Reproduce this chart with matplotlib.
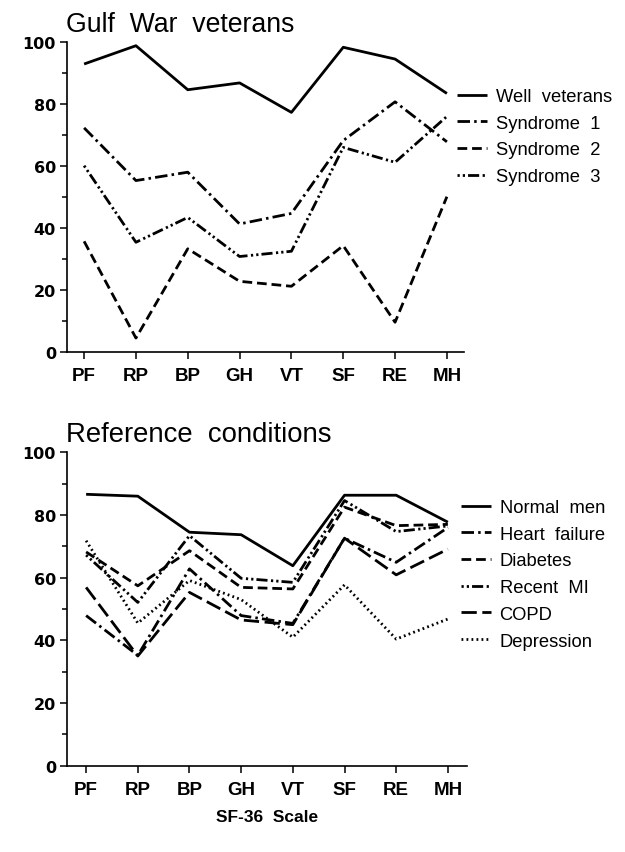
import matplotlib
matplotlib.use("Agg")
import matplotlib.pyplot as plt
from matplotlib.ticker import MultipleLocator

plt.rcParams['font.family'] = ['Liberation Sans', 'DejaVu Sans']
plt.rcParams['lines.scale_dashes'] = False

scales = ["PF", "RP", "BP", "GH", "VT", "SF", "RE", "MH"]

# Gulf War veterans
well_veterans = [92.9, 98.8, 84.6, 86.8, 77.3, 98.3, 94.5, 83.4]
syndrome1 = [72.3, 55.3, 58.0, 41.3, 44.7, 68.2, 80.7, 67.8]
syndrome2 = [35.7, 4.5, 33.3, 22.8, 21.2, 34.3, 9.6, 50.1]
syndrome3 = [60.1, 35.4, 43.4, 30.8, 32.5, 66.0, 61.2, 76.0]

# Reference conditions
normal_men = [86.6, 86.0, 74.5, 73.7, 63.8, 86.3, 86.3, 77.7]
heart_failure = [47.9, 35.2, 62.8, 47.9, 45.4, 72.6, 64.9, 76.0]
diabetes = [68.2, 57.4, 68.6, 56.9, 56.4, 82.5, 76.6, 77.0]
recent_mi = [67.2, 52.1, 73.4, 59.8, 58.5, 84.6, 74.7, 76.5]
copd = [56.9, 35.0, 55.3, 46.5, 45.0, 72.6, 60.9, 69.1]
depression = [71.8, 45.5, 59.1, 53.0, 41.0, 57.7, 40.4, 46.8]

top_labels = ["Well  veterans", "Syndrome  1", "Syndrome  2", "Syndrome  3"]
bottom_labels = ["Normal  men", "Heart  failure", "Diabetes", "Recent  MI", "COPD", "Depression"]

W, H = 625, 853
fig = plt.figure(figsize=(W / 100, H / 100), dpi=100)

ax1 = fig.add_axes([67 / W, 1 - 353 / H, 397 / W, 310 / H])
ax2 = fig.add_axes([67 / W, 1 - 766.7 / H, 400 / W, 313.4 / H])

solid = (0, ())
dashdot = (0, (9, 3, 1.8, 3))
dashed = (0, (7, 3.5))
dotdotdash = (0, (1.6, 2.2, 1.6, 2.2, 8, 2.5))
longdash = (0, (11, 4))
dotted = (0, (1.3, 2.3))

x = list(range(len(scales)))
lw = 2.0

top_series = [well_veterans, syndrome1, syndrome2, syndrome3]
top_styles = [solid, dashdot, dashed, dotdotdash]
for vals, ls, lab in zip(top_series, top_styles, top_labels):
    ax1.plot(x, vals, color='black', lw=lw, linestyle=ls, label=lab,
             solid_joinstyle='miter', dash_capstyle='butt')

bottom_series = [normal_men, heart_failure, diabetes, recent_mi, copd, depression]
bottom_styles = [solid, dashdot, dashed, dotdotdash, longdash, dotted]
for vals, ls, lab in zip(bottom_series, bottom_styles, bottom_labels):
    ax2.plot(x, vals, color='black', lw=lw, linestyle=ls, label=lab,
             solid_joinstyle='miter', dash_capstyle='butt')

for ax, xl in ((ax1, (-0.33, 7.33)), (ax2, (-0.37, 7.37))):
    ax.set_xlim(*xl)
    ax.set_ylim(0, 100)
    ax.spines['top'].set_visible(False)
    ax.spines['right'].set_visible(False)
    ax.spines['left'].set_linewidth(1.2)
    ax.spines['bottom'].set_linewidth(1.2)
    ax.set_xticks(x)
    ax.set_xticklabels(scales)
    ax.yaxis.set_major_locator(MultipleLocator(20))
    ax.yaxis.set_minor_locator(MultipleLocator(10))
    ax.tick_params(axis='both', which='major', direction='out', length=5,
                   width=1.1, labelsize=13.5)
    ax.tick_params(axis='y', which='minor', direction='out', length=3.5, width=1.1)
    ax.tick_params(axis='x', pad=6)
    ax.tick_params(axis='y', pad=3)
    for t in ax.get_xticklabels():
        t.set_fontweight('bold')
    for t in ax.get_yticklabels():
        t.set_fontweight('bold')
        t.set_fontfamily('DejaVu Sans')
        t.set_fontsize(11.5)

ax2.set_xlabel("SF-36  Scale", fontsize=12.5, fontweight='bold', labelpad=8)

fig.text(66 / W, 1 - 25 / H, "Gulf  War  veterans", fontsize=19.2, va='center', ha='left')
fig.text(66 / W, 1 - 435 / H, "Reference  conditions", fontsize=19.8, va='center', ha='left')

leg_kw = dict(frameon=False, fontsize=13.2, handlelength=1.65, handletextpad=0.45,
              labelspacing=0.53, borderpad=0, borderaxespad=0, loc='upper left')
ax1.legend(bbox_to_anchor=(457 / W, 1 - 89 / H), bbox_transform=fig.transFigure, **leg_kw)
ax2.legend(bbox_to_anchor=(461 / W, 1 - 500 / H), bbox_transform=fig.transFigure, **leg_kw)

fig.savefig("out.png", dpi=100)
